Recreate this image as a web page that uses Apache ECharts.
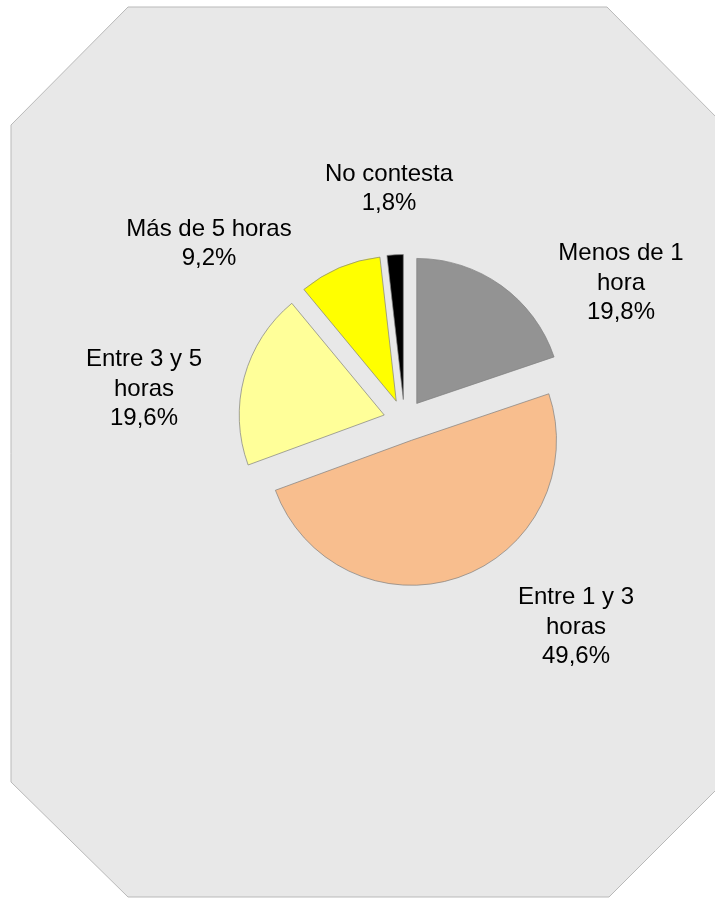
<!DOCTYPE html>
<html>
<head>
<meta charset="utf-8">
<script src="https://cdn.jsdelivr.net/npm/echarts@6/dist/echarts.min.js"></script>
<style>
  html, body { margin: 0; padding: 0; background: #ffffff; }
  #main { width: 715px; height: 898px; }
</style>
</head>
<body>
<div id="main"></div>
<script>
// datos del gráfico
const categories = ['Menos de 1\nhora', 'Entre 1 y 3\nhoras', 'Entre 3 y 5\nhoras', 'Más de 5 horas', 'No contesta']
const values = [19.8, 49.6, 19.6, 9.2, 1.8]
const colors = ['#939393', '#F8BE8E', '#FFFF99', '#FFFF00', '#000000']
// posición de las etiquetas (centro del bloque de texto)
const labelPos = [[621, 283], [576, 627], [144, 389], [209, 244], [389, 189]]

const myChart = echarts.init(document.getElementById('main'), null, { renderer: 'canvas' })

const center = [404.5, 420.5]
const radius = 145

const option = {
  animation: false,
  backgroundColor: '#ffffff',
  graphic: [
    {
      type: 'polygon',
      z: -10,
      silent: true,
      shape: {
        points: [[128, 7], [607, 7], [724, 125], [724, 782], [609, 897], [128, 897], [11, 782], [11, 125]]
      },
      style: { fill: '#E8E8E8', stroke: '#B9B9B9', lineWidth: 1 }
    }
  ],
  series: [
    {
      // sectores separados
      type: 'pie',
      z: 2,
      center: center,
      radius: radius,
      startAngle: 90,
      clockwise: true,
      selectedMode: 'multiple',
      selectedOffset: 21,
      emphasis: { disabled: true },
      itemStyle: { borderColor: '#808080', borderWidth: 0.7 },
      label: { show: false },
      labelLine: { show: false },
      data: categories.map((name, i) => ({
        name: name,
        value: values[i],
        selected: true,
        itemStyle: { color: colors[i] }
      }))
    },
    {
      // etiquetas (mismos datos, sectores transparentes)
      type: 'pie',
      z: 3,
      silent: true,
      center: center,
      radius: radius,
      startAngle: 90,
      clockwise: true,
      selectedMode: false,
      avoidLabelOverlap: false,
      emphasis: { disabled: true },
      itemStyle: { color: 'rgba(0,0,0,0)', borderWidth: 0 },
      labelLine: { show: false },
      label: {
        show: true,
        color: '#000000',
        fontFamily: 'Liberation Sans, Arial, sans-serif',
        fontSize: 24,
        lineHeight: 29.5,
        align: 'center',
        formatter: function (params) {
          return params.name + '\n' + params.value.toFixed(1).replace('.', ',') + '%'
        }
      },
      labelLayout: function (params) {
        const p = labelPos[params.dataIndex]
        return { x: p[0], y: p[1], align: 'center', verticalAlign: 'middle' }
      },
      data: categories.map((name, i) => ({ name: name, value: values[i] }))
    }
  ]
}
myChart.setOption(option)
</script>
</body>
</html>
